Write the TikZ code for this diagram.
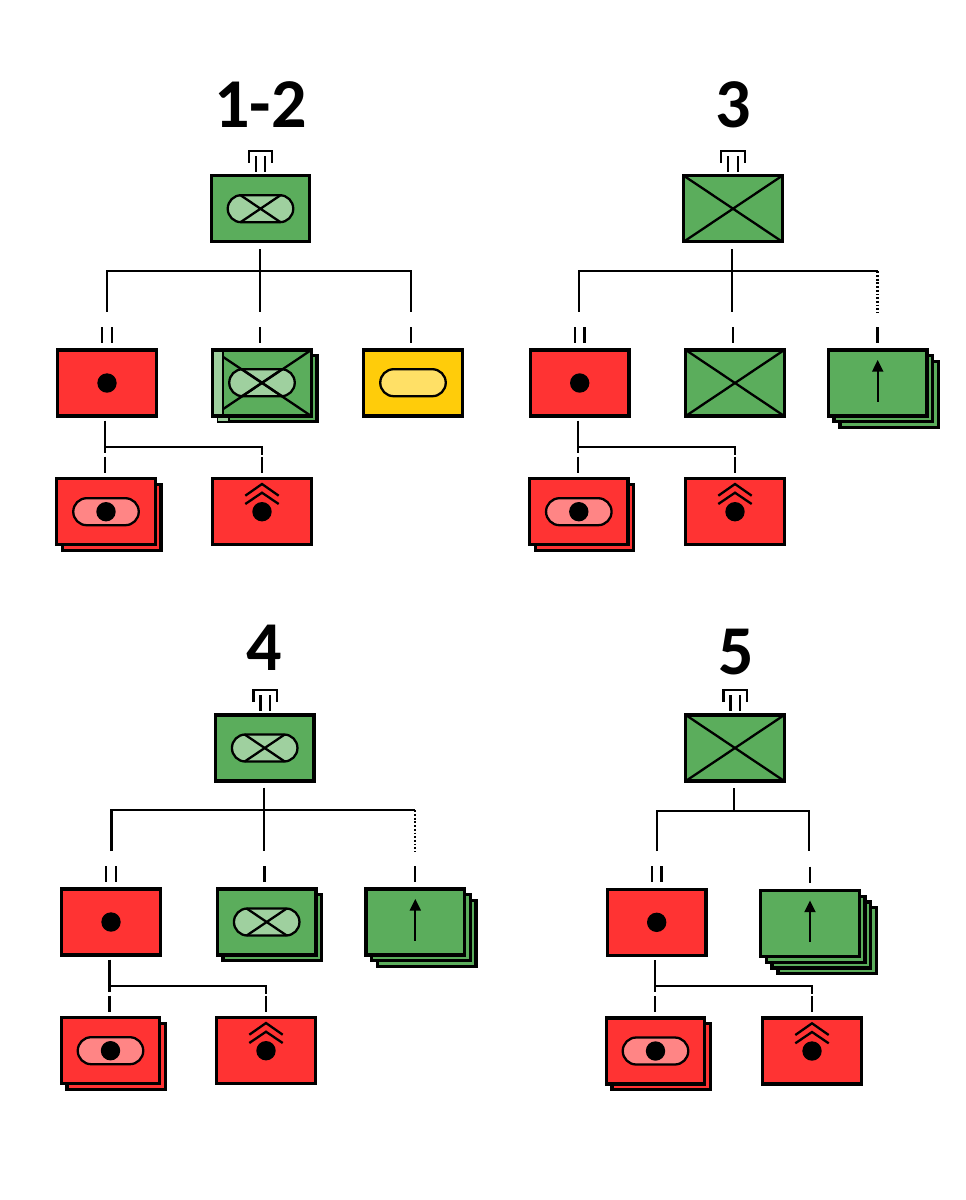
\documentclass[tikz,border=0pt]{standalone}
\usepackage{fontspec}
\setmainfont{Carlito}
\definecolor{ugreen}{HTML}{5BAD5C}
\definecolor{lgreen}{HTML}{9FD09F}
\definecolor{ured}{HTML}{FF3333}
\definecolor{lred}{HTML}{FF8585}
\definecolor{uyellow}{HTML}{FFCC0A}
\definecolor{lyellow}{HTML}{FFE066}
\tikzset{
  unit/.style={draw=black,line width=3.4pt,minimum width=98.5pt,minimum height=66pt,inner sep=0pt,outer sep=0pt},
  conn/.style={draw=black,line width=2.2pt},
  dotconn/.style={draw=black,line width=2.2pt,dash pattern=on 1.8pt off 1.9pt},
  sym/.style={draw=black,line width=2.3pt},
  title/.style={anchor=base,inner sep=0pt,font=\fontsize{70}{70}\selectfont\bfseries},
}
% name cx cy fill count: stacked sheets behind a unit
\newcommand\sheets[5]{\foreach \i in {#5,...,1}{\node[unit,fill=#4] (#1s\i) at ({#2+\i*5.7},{#3+\i*5.7}) {};}}
\newcommand\unitbox[4]{\node[unit,fill=#4] (#1) at (#2,#3) {};}
\newcommand\boxx[1]{\draw[sym] (#1.north west) -- (#1.south east) (#1.south west) -- (#1.north east);}
\newcommand\pill[4]{\draw[sym,fill=#4,rounded corners=13.45pt] (#2-32.75,#3-13.5) rectangle (#2+32.75,#3+13.5);}
\newcommand\pillx[2]{\pill{}{#1}{#2}{lgreen}\draw[sym] (#1-20,#2-13.5) -- (#1+20,#2+13.5) (#1-20,#2+13.5) -- (#1+20,#2-13.5);}
\newcommand\blob[2]{\fill[black] (#1,#2) circle (9.7);}
\newcommand\chev[2]{\draw[sym] (#1-16.7,#2-16) -- (#1,#2-27.7) -- (#1+16.7,#2-16) (#1-16.7,#2-7.7) -- (#1,#2-19) -- (#1+16.7,#2-7.7);}
\newcommand\arrowsym[2]{\draw[sym] (#1,#2+18.5) -- (#1,#2-12);\fill[black] (#1-5.8,#2-11.3) -- (#1,#2-23) -- (#1+5.8,#2-11.3) -- cycle;}
% cx top-of-bracket
\newcommand\brigade[2]{\draw[sym] (#1-11.8,#2+11.5) -- (#1-11.8,#2) -- (#1+11.8,#2) -- (#1+11.8,#2+11.5);\draw[sym] (#1-4.7,#2+5) -- (#1-4.7,#2+21) (#1+4.7,#2+5) -- (#1+4.7,#2+21);}
\newcommand\tickone[2]{\draw[sym] (#1,#2) -- (#1,#2+16);}
\newcommand\ticktwo[2]{\draw[sym] (#1-4.7,#2) -- (#1-4.7,#2+16) (#1+4.7,#2) -- (#1+4.7,#2+16);}
% prefix, box x, lead x, lower-left x, lower-right x, y offset
\newcommand\redgroup[6]{
  \begin{scope}[shift={(0,#6)}]
    \ticktwo{#2}{327}
    \unitbox{#1red}{#2}{383}{ured}
    \blob{#2}{383}
    \sheets{#1lo}{#4}{511.7}{ured}{1}
    \unitbox{#1lo}{#4}{511.7}{ured}
    \pill{}{#4}{511.7}{lred}
    \blob{#4}{511.7}
    \unitbox{#1ro}{#5}{511.7}{ured}
    \chev{#5}{511.7}
    \blob{#5}{511.7}
    \coordinate (#1a) at (#3,420.7);
    \coordinate (#1b) at (#3,452.7);
    \coordinate (#1c) at (#3,446.7);
    \coordinate (#1d) at (#5,446.7);
    \coordinate (#1e) at (#5,455);
    \coordinate (#1f) at (#3,456.7);
    \coordinate (#1g) at (#3,473);
    \coordinate (#1h) at (#5,456.7);
    \coordinate (#1i) at (#5,473);
    \draw[conn] (#1a) -- (#1b);
    \draw[conn] (#1c) -- (#1d) -- (#1e);
    \draw[conn] (#1f) -- (#1g);
    \draw[conn] (#1h) -- (#1i);
  \end{scope}
}
\begin{document}
\begin{tikzpicture}[x=1pt,y=-1pt,line cap=butt,line join=miter]
\useasboundingbox (0,0) rectangle (966,1200);
\fill[white] (0,0) rectangle (966,1200);

% ---------- panel 1-2
\node[title] (t1) at (260.5,127.3) {1-2};
\brigade{260.5}{151}
\unitbox{atop}{260.5}{208.7}{ugreen}
\pillx{260.5}{208.7}
\coordinate (a0) at (260,249);
\coordinate (a1) at (260,311.7);
\coordinate (a2) at (107,311.7);
\coordinate (a3) at (107,271.3);
\coordinate (a4) at (410.7,271.3);
\coordinate (a5) at (410.7,311.7);
\draw[conn] (a0) -- (a1);
\draw[conn] (a2) -- (a3) -- (a4) -- (a5);
\redgroup{a}{107}{105}{106}{262}{0}
\tickone{260}{327}
\tickone{411}{327}
% middle unit with strip
\node[unit,fill=ugreen] (amids) at (267.7,388.7) {};
\fill[lgreen] (218.2,410) rectangle (228.5,421);
\draw[sym] (229,412) -- (229,421);
\unitbox{amid}{262}{383}{ugreen}
\pillx{262}{382.7}
\boxx{amid}
\fill[lgreen] (214.4,351.7) rectangle (222.7,414.7);
\draw[sym] (223.3,350) -- (223.3,416);
\draw[black,line width=3.4pt] (amid.south west) rectangle (amid.north east);
\unitbox{ayel}{413}{383}{uyellow}
\pill{}{413}{382.7}{lyellow}

% ---------- panel 3
\node[title] (t2) at (733.5,127.3) {3};
\brigade{733}{151}
\unitbox{btop}{733}{208.7}{ugreen}
\boxx{btop}
\coordinate (b0) at (732,249);
\coordinate (b1) at (732,311.7);
\coordinate (b2) at (579,311.7);
\coordinate (b3) at (579,271.3);
\coordinate (b4) at (877.5,271.3);
\coordinate (b5) at (877.5,313);
\draw[conn] (b0) -- (b1);
\draw[conn] (b2) -- (b3) -- (b4);
\draw[dotconn] (b4) -- (b5);
\redgroup{b}{579.7}{578}{578.8}{735}{0}
\tickone{733}{327}
\tickone{877.5}{327}
\unitbox{bmid}{735}{383}{ugreen}
\boxx{bmid}
\sheets{bri}{877.7}{383}{ugreen}{2}
\unitbox{bri}{877.7}{383}{ugreen}
\arrowsym{877.7}{383}

% ---------- panel 4
\node[title] (t3) at (264.3,670) {4};
\brigade{265.3}{690}
\unitbox{ctop}{264.7}{748}{ugreen}
\pillx{264.7}{748}
\coordinate (c0) at (264,787.7);
\coordinate (c1) at (264,851);
\coordinate (c2) at (111.5,851);
\coordinate (c3) at (111.5,810.3);
\coordinate (c4) at (415.3,810.3);
\coordinate (c5) at (415.3,852);
\draw[conn] (c0) -- (c1);
\draw[conn] (c2) -- (c3) -- (c4);
\draw[dotconn] (c4) -- (c5);
\redgroup{c}{111}{109.5}{110.5}{266}{539}
\tickone{264.5}{866}
\tickone{415.3}{866}
\sheets{cmid}{266.7}{922}{ugreen}{1}
\unitbox{cmid}{266.7}{922}{ugreen}
\pillx{266.7}{922}
\sheets{cri}{415.3}{922}{ugreen}{2}
\unitbox{cri}{415.3}{922}{ugreen}
\arrowsym{415.3}{922}

% ---------- panel 5
\node[title] (t4) at (736,674) {5};
\brigade{735.3}{690}
\unitbox{dtop}{735}{748}{ugreen}
\boxx{dtop}
\coordinate (d0) at (734.3,788);
\coordinate (d1) at (734.3,810.7);
\coordinate (d2) at (656.7,851);
\coordinate (d3) at (656.7,810.7);
\coordinate (d4) at (809.3,810.7);
\coordinate (d5) at (809.3,851);
\draw[conn] (d0) -- (d1);
\draw[conn] (d2) -- (d3) -- (d4) -- (d5);
\redgroup{d}{656.7}{654.7}{655.5}{812}{539.3}
\tickone{809.7}{866.5}
\sheets{dri}{810}{923.5}{ugreen}{3}
\unitbox{dri}{810}{923.5}{ugreen}
\arrowsym{810}{923.5}
\end{tikzpicture}
\end{document}
